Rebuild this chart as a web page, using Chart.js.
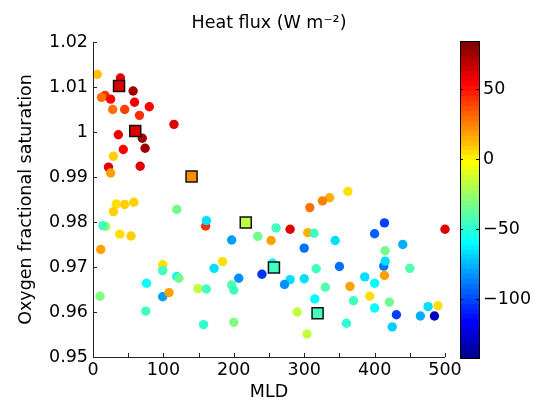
<!DOCTYPE html>
<html>
<head>
<meta charset="utf-8">
<script src="https://cdn.jsdelivr.net/npm/chart.js@4/dist/chart.umd.min.js"></script>
<style>
  html, body { margin: 0; padding: 0; background: #fff; }
  #wrap { width: 536px; height: 405px; }
</style>
</head>
<body>
<div id="wrap"><canvas id="canvas1" width="536" height="405"></canvas></div>
<script>
// individual profiles
var mld = [6, 39, 57, 17, 12, 25, 59, 80, 28, 45, 66, 115, 36, 70, 74, 43, 29, 22, 67, 25,
  33, 45, 58, 29, 119, 18, 14, 160, 161, 38, 54, 197, 234, 11, 99, 172, 184, 99, 76, 119,
  122, 207, 240, 149, 161, 197, 200, 99, 108, 10, 75, 157, 200,
  362, 336, 326, 308, 260, 280, 305, 314, 253, 344, 414, 400, 440, 415, 413, 415, 300,
  255, 450, 317, 350, 280, 272, 300, 330, 386, 400, 414, 365, 393, 315, 370, 421, 400,
  476, 490, 431, 465, 485, 290, 360, 425, 304, 500];
var o2sat = [1.0128, 1.0120, 1.0091, 1.0081, 1.0077, 1.0073, 1.0066, 1.0056, 1.0050, 1.0050,
  1.0037, 1.0017, 0.9994, 0.9986, 0.9964, 0.9961, 0.9946, 0.9922, 0.9924, 0.9909,
  0.9840, 0.9839, 0.9844, 0.9823, 0.9828, 0.9790, 0.9792, 0.9791, 0.9803, 0.9773,
  0.9769, 0.9760, 0.9768, 0.9739, 0.9705, 0.9697, 0.9712, 0.9692, 0.9664, 0.9679,
  0.9675, 0.9675, 0.9684, 0.9652, 0.9651, 0.9660, 0.9649, 0.9634, 0.9643, 0.9635,
  0.9602, 0.9572, 0.9577,
  0.9868, 0.9854, 0.9847, 0.9832, 0.9787, 0.9784, 0.9776, 0.9775, 0.9759, 0.9759,
  0.9798, 0.9774, 0.9750, 0.9736, 0.9702, 0.9713, 0.9742, 0.9709, 0.9697, 0.9696,
  0.9701, 0.9672, 0.9661, 0.9674, 0.9655, 0.9678, 0.9664, 0.9681, 0.9657, 0.9635,
  0.9629, 0.9625, 0.9622, 0.9609, 0.9612, 0.9614, 0.9594, 0.9591, 0.9591, 0.9600,
  0.9575, 0.9567, 0.9551, 0.9784];
var heatFlux = [10, 60, 75, 45, 30, 55, 58, 55, 28, 40, 45, 60, 58, 75, 75, 55, 8, 60, 60, 20,
  3, 8, 8, 8, -35, -25, -45, 45, -65, 5, 8, -80, -35, 20, 3, -65, 3, -45, -60, -60,
  -35, -85, -105, -15, -45, -40, -45, -80, 20, -30, -45, -50, -30,
  3, 15, 25, 28, -45, 62, 15, -45, 20, -65, -100, -95, -75, -35, -90, -65, -90,
  -60, -40, -45, -90, -65, -85, -65, -40, -65, -60, 20, 18, 3, -60, -45, -35, -60,
  -65, 3, -100, -75, -130, -15, -50, -70, -15, 62];

// binned means (squares)
var binMld = [37, 60, 140, 217, 257, 319];
var binSat = [1.0102, 1.0002, 0.9901, 0.9799, 0.9699, 0.9597];
var binFlux = [62, 60, 22, -15, -45, -45];

var xTicks = [0, 100, 200, 300, 400, 500];
var xMinorTicks = [50, 150, 250, 350, 450];
var yTicks = [0.95, 0.96, 0.97, 0.98, 0.99, 1.00, 1.01, 1.02];
var cbTicks = [50, 0, -50, -100];
var cMin = -142, cMax = 84;

var FONT = 'DejaVu Sans';

// matlab jet(64)
function jet64() {
  var m = 64, n = 16, u = [], J = [], i, k;
  for (i = 0; i < m; i++) J.push([0, 0, 0]);
  for (i = 1; i <= n; i++) u.push(i / n);
  for (i = 1; i < n; i++) u.push(1);
  for (i = n; i >= 1; i--) u.push(i / n);
  for (k = 1; k <= u.length; k++) {
    var g = 8 + k, r = g + n, b = g - n;
    if (r <= m) J[r - 1][0] = u[k - 1];
    if (g <= m) J[g - 1][1] = u[k - 1];
    if (b >= 1) J[b - 1][2] = u[k - 1];
  }
  return J.map(function (c) {
    return 'rgb(' + Math.round(c[0] * 255) + ',' + Math.round(c[1] * 255) + ',' + Math.round(c[2] * 255) + ')';
  });
}
var cmap = jet64();
function fluxColor(v) {
  var i = Math.floor((v - cMin) / (cMax - cMin) * 64);
  return cmap[Math.max(0, Math.min(63, i))];
}

var axesPlugin = {
  id: 'axesAndColorbar',
  afterDraw: function (chart) {
    var ctx = chart.ctx, a = chart.chartArea, xs = chart.scales.x, ys = chart.scales.y;
    ctx.save();
    ctx.strokeStyle = '#222';
    ctx.lineWidth = 1;
    ctx.beginPath();
    ctx.moveTo(a.left + 0.5, a.top);
    ctx.lineTo(a.left + 0.5, a.bottom + 0.5);
    ctx.lineTo(a.right, a.bottom + 0.5);
    // inward ticks
    xTicks.concat(xMinorTicks).forEach(function (v) {
      var px = Math.round(xs.getPixelForValue(v)) + 0.5;
      ctx.moveTo(px, a.bottom);
      ctx.lineTo(px, a.bottom - 4);
    });
    yTicks.forEach(function (v) {
      var py = Math.round(ys.getPixelForValue(v)) + 0.5;
      ctx.moveTo(a.left, py);
      ctx.lineTo(a.left + 4, py);
    });
    ctx.stroke();

    // colorbar
    var cl = a.right + 15, cw = 19, ct = a.top - 1, cb = a.bottom + 1, ch = cb - ct;
    for (var i = 0; i < 64; i++) {
      ctx.fillStyle = cmap[i];
      var y0 = cb - ch * (i + 1) / 64, y1 = cb - ch * i / 64;
      ctx.fillRect(cl, Math.floor(y0), cw, Math.ceil(y1) - Math.floor(y0));
    }
    ctx.strokeStyle = '#000';
    ctx.strokeRect(cl + 0.5, ct + 0.5, cw, ch);
    ctx.fillStyle = '#000';
    ctx.font = '17.5px "' + FONT + '"';
    ctx.textAlign = 'left';
    ctx.textBaseline = 'middle';
    ctx.beginPath();
    cbTicks.forEach(function (v) {
      var py = Math.round(cb - (v - cMin) / (cMax - cMin) * ch) + 0.5;
      ctx.moveTo(cl, py); ctx.lineTo(cl + 3, py);
      ctx.moveTo(cl + cw, py); ctx.lineTo(cl + cw - 3, py);
      ctx.fillText(v < 0 ? '\u2212' + Math.abs(v) : String(v), cl + cw + 4, py);
    });
    ctx.stroke();
    ctx.restore();
  }
};

new Chart(document.getElementById('canvas1'), {
  type: 'scatter',
  data: {
    datasets: [{
      data: binMld.map(function (x, i) { return { x: x, y: binSat[i] }; }),
      pointStyle: 'rect',
      pointRadius: 7.8,
      backgroundColor: binFlux.map(fluxColor),
      borderColor: '#111',
      borderWidth: 1.5,
      clip: false,
      order: 0
    }, {
      data: mld.map(function (x, i) { return { x: x, y: o2sat[i] }; }),
      pointRadius: 4.7,
      backgroundColor: heatFlux.map(fluxColor),
      borderWidth: 0,
      clip: false,
      order: 1
    }]
  },
  options: {
    responsive: false,
    animation: false,
    layout: { padding: { left: 0, right: 91, top: 0, bottom: 0 } },
    plugins: {
      legend: { display: false },
      tooltip: { enabled: false },
      title: {
        display: true,
        text: 'Heat flux (W m\u207B\u00B2)',
        fullSize: false,
        color: '#000',
        font: { family: FONT, size: 17.5, weight: 'normal' },
        padding: { top: 13, bottom: 8 }
      }
    },
    scales: {
      x: {
        type: 'linear',
        min: 0, max: 500,
        afterBuildTicks: function (s) { s.ticks = xTicks.map(function (v) { return { value: v }; }); },
        afterFit: function (s) { s.height = 48; },
        grid: { display: false, drawTicks: false },
        border: { display: false },
        ticks: { color: '#000', padding: 3, font: { family: FONT, size: 17.5 }, maxRotation: 0 },
        title: { display: true, text: 'MLD', color: '#000', font: { family: FONT, size: 17.5 }, padding: { top: 0, bottom: 2.5 } }
      },
      y: {
        type: 'linear',
        min: 0.95, max: 1.02,
        afterBuildTicks: function (s) { s.ticks = yTicks.map(function (v) { return { value: v }; }); },
        afterFit: function (s) { s.width = 93; },
        grid: { display: false, drawTicks: false },
        border: { display: false },
        ticks: {
          color: '#000', padding: 5, font: { family: FONT, size: 17.5 },
          callback: function (v) { return String(Number(v.toFixed(2))); }
        },
        title: { display: true, text: 'Oxygen fractional saturation', color: '#000', font: { family: FONT, size: 17.5 }, padding: { top: 15.5, bottom: 0 } }
      }
    }
  },
  plugins: [axesPlugin]
});
</script>
</body>
</html>
